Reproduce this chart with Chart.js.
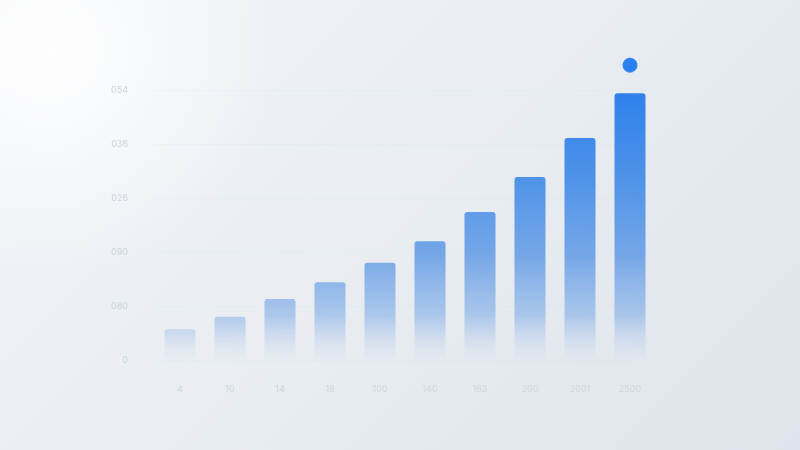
<!DOCTYPE html>
<html>
<head>
<meta charset="utf-8">
<script src="https://cdn.jsdelivr.net/npm/chart.js@4/dist/chart.umd.min.js"></script>
<style>
  html, body {
    margin: 0;
    padding: 0;
    width: 800px;
    height: 450px;
    overflow: hidden;
  }
  body {
    background:
      radial-gradient(circle at 50px 50px, rgba(255,255,255,0.9) 0, rgba(255,255,255,0) 230px),
      linear-gradient(135deg, #f2f4f7 0%, #e9edf2 50%, #dee4eb 100%);
  }
  #wrap {
    position: relative;
    width: 800px;
    height: 450px;
  }
</style>
</head>
<body>
<div id="wrap"><canvas id="chart"></canvas></div>
<script>
// Chart data
const categories = ["4", "10", "14", "18", "100", "140", "163", "200", "2001", "2500"];
const barValues = [0.57, 0.80, 1.13, 1.44, 1.80, 2.20, 2.74, 3.39, 4.11, 4.94];
const markerValues = [null, null, null, null, null, null, null, null, null, 5.46];
const yTickLabels = ["0", "080", "090", "026", "036", "054"];

function barGradient(context) {
    const chart = context.chart;
    const area = chart.chartArea;
    if (!area) return 'rgba(42,125,232,0.8)';
    const g = chart.ctx.createLinearGradient(0, area.top, 0, area.bottom);
    g.addColorStop(0, 'rgba(36,122,236,1)');
    g.addColorStop(0.4, 'rgba(68,140,231,0.93)');
    g.addColorStop(0.65, 'rgba(92,152,229,0.82)');
    g.addColorStop(0.85, 'rgba(120,168,230,0.55)');
    g.addColorStop(1, 'rgba(190,210,238,0.05)');
    return g;
}

const ctx = document.getElementById('chart').getContext('2d');

new Chart(ctx, {
    data: {
        labels: categories,
        datasets: [
            {
                type: 'scatter',
                data: markerValues,
                backgroundColor: '#2a80ee',
                borderColor: '#2a80ee',
                pointRadius: 7,
                pointHoverRadius: 7,
                showLine: false,
                clip: false,
                order: 0
            },
            {
                type: 'bar',
                data: barValues,
                backgroundColor: barGradient,
                borderRadius: 3,
                borderSkipped: 'bottom',
                barPercentage: 0.62,
                categoryPercentage: 1.0,
                order: 1
            }
        ]
    },
    options: {
        responsive: true,
        maintainAspectRatio: false,
        animation: false,
        layout: {
            padding: { left: 100, right: 145, top: 63, bottom: 50 }
        },
        plugins: {
            legend: { display: false },
            tooltip: { enabled: false }
        },
        scales: {
            x: {
                type: 'category',
                offset: true,
                grid: { display: false, drawTicks: false },
                border: { display: false },
                ticks: {
                    color: '#d0d5dc',
                    padding: 24,
                    font: { family: 'Inter', size: 9 }
                },
                afterFit: (scale) => { scale.height = 40; }
            },
            y: {
                min: 0,
                max: 5.5,
                afterBuildTicks: (scale) => {
                    scale.ticks = yTickLabels.map((_, i) => ({ value: i }));
                },
                grid: {
                    color: 'rgba(200,210,222,0.12)',
                    drawTicks: false
                },
                border: { display: false },
                ticks: {
                    color: '#cdd2d9',
                    padding: 27,
                    font: { family: 'Inter', size: 9 },
                    callback: (value) => yTickLabels[value] ?? ''
                },
                afterFit: (scale) => { scale.width = 55; }
            }
        }
    }
});
</script>
</body>
</html>
